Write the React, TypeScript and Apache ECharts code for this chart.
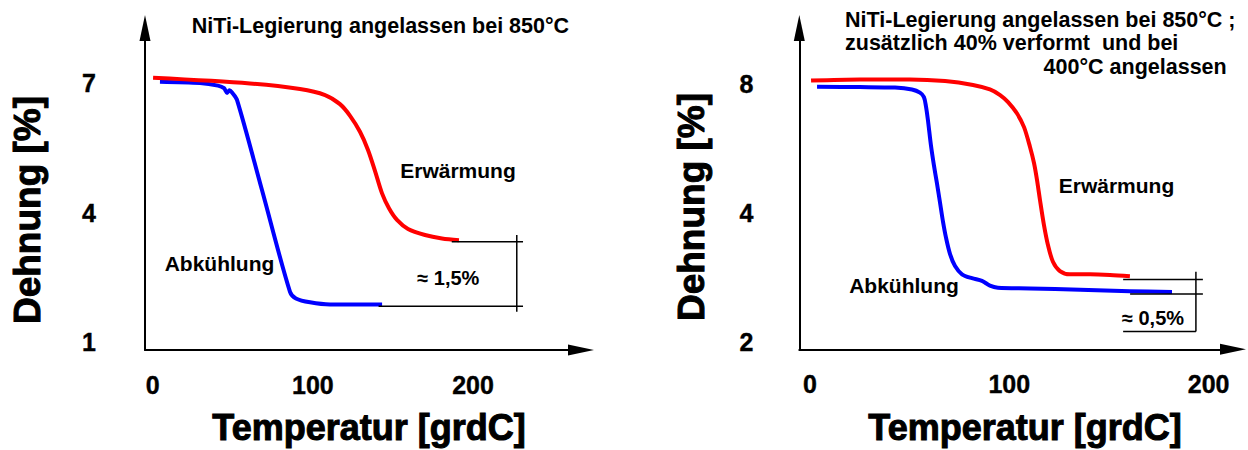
import React, { useEffect, useRef } from "react";
import * as echarts from "echarts";

// ---------- data ----------
const leftXTicks = [0, 100, 200];
const leftYTicks = [1, 4, 7];
const rightXTicks = [0, 100, 200];

// left panel: NiTi annealed at 850 °C
const leftHeating: [number, number][] = [
  [0.2, 7.12], [60.7, 6.99], [91.9, 6.86], [107.6, 6.72], [116.9, 6.51], [123.2, 6.24],
  [129.4, 5.87], [134.4, 5.45], [138.8, 4.96], [143.1, 4.45], [147.5, 4.1], [152.5, 3.83],
  [159.4, 3.62], [170.0, 3.48], [180.6, 3.4], [191.2, 3.36],
];
const leftCooling: [number, number][] = [
  [4.5, 7.03], [29.5, 7.0], [40.7, 6.94], [44.5, 6.88], [46.4, 6.77], [47.9, 6.83],
  [49.5, 6.78], [52.6, 6.61], [68.2, 4.52], [85.7, 2.16], [89.4, 2.01], [98.2, 1.92],
  [110.7, 1.87], [143.2, 1.87],
];
const leftBracketLines: [number, number][][] = [
  [[186.7, 3.32], [231.2, 3.32]],
  [[141.0, 1.83], [231.2, 1.83]],
  [[227.3, 3.48], [227.3, 1.7]],
];

// right panel: additionally 40 % deformed and annealed at 400 °C
const rightHeating: [number, number][] = [
  [0.6, 8.14], [25.1, 8.19], [50.2, 8.19], [67.8, 8.12], [81.8, 7.95], [90.3, 7.76],
  [95.4, 7.53], [99.4, 7.25], [103.9, 6.82], [107.4, 6.34], [110.4, 5.7], [112.4, 5.23],
  [113.9, 4.78], [115.4, 4.29], [117.4, 3.75], [119.4, 3.37], [121.9, 3.08], [125.4, 2.93],
  [130.4, 2.88], [140.5, 2.88], [150.5, 2.87], [160.5, 2.85],
];
const rightCooling: [number, number][] = [
  [3.6, 7.87], [25.1, 7.86], [42.7, 7.84], [51.2, 7.76], [55.2, 7.63], [57.2, 7.45],
  [58.2, 7.1], [59.2, 6.59], [60.7, 5.76], [62.2, 5.17], [63.7, 4.7], [65.3, 4.22],
  [66.8, 3.81], [68.3, 3.5], [70.3, 3.21], [72.8, 3.01], [76.3, 2.88], [81.3, 2.82],
  [86.3, 2.78], [90.3, 2.71], [94.3, 2.68], [110.4, 2.67], [135.5, 2.65], [160.5, 2.63],
  [181.6, 2.62],
];
const rightBracketLines: [number, number][][] = [
  [[157.1, 2.8], [197.1, 2.8]],
  [[160.6, 2.59], [197.1, 2.59]],
  [[193.6, 2.92], [193.6, 2.12]],
  [[157.1, 2.12], [193.6, 2.12]],
];

// ---------- styling ----------
const FONT = "'Liberation Sans', Arial, Helvetica, sans-serif";
const RED = "#ff0000";
const BLUE = "#0000ff";

const axisLine = {
  show: true,
  onZero: false,
  symbol: ["none", "triangle"],
  symbolSize: [11, 26],
  lineStyle: { color: "#000", width: 2 },
};
const tickLabel = {
  color: "#000",
  fontFamily: FONT,
  fontWeight: "bold" as const,
  fontSize: 25,
  textBorderColor: "#000",
  textBorderWidth: 0.4,
};

function curve(data: [number, number][], color: string, idx: number, z = 2) {
  return {
    type: "line",
    xAxisIndex: idx,
    yAxisIndex: idx,
    data,
    showSymbol: false,
    symbol: "none",
    smooth: 0.3,
    z,
    lineStyle: { color, width: 4, join: "round" },
    silent: true,
  };
}
function segment(data: [number, number][], idx: number) {
  return {
    type: "line",
    xAxisIndex: idx,
    yAxisIndex: idx,
    data,
    showSymbol: false,
    symbol: "none",
    z: 5,
    lineStyle: { color: "#000", width: 1.5 },
    silent: true,
  };
}
function txt(text: string, x: number, y: number, size: number, align = "center", rotation = 0, weight = 0) {
  const style: any = {
    text,
    fill: "#000",
    fontFamily: FONT,
    fontWeight: "bold",
    fontSize: size,
    align,
    verticalAlign: "middle",
  };
  if (weight > 0) {
    style.stroke = "#000";
    style.lineWidth = weight;
  }
  return { type: "text", x, y, rotation, silent: true, style };
}

const option = {
  animation: false,
  backgroundColor: "#fff",
  grid: [
    { left: 145, top: 28, width: 436, height: 322 },
    { left: 799.3, top: 28, width: 433.7, height: 321.3 },
  ],
  xAxis: [
    {
      type: "value",
      gridIndex: 0,
      min: -4.84,
      max: 267.4,
      axisLine,
      axisTick: { show: false },
      splitLine: { show: false },
      axisLabel: { ...tickLabel, margin: 22, customValues: leftXTicks },
    },
    {
      type: "value",
      gridIndex: 1,
      min: -5.3,
      max: 212.2,
      axisLine,
      axisTick: { show: false },
      splitLine: { show: false },
      axisLabel: { ...tickLabel, margin: 22, customValues: rightXTicks },
    },
  ],
  yAxis: [
    {
      type: "value",
      gridIndex: 0,
      min: 0.815,
      max: 8.274,
      axisLine,
      axisTick: { show: false },
      splitLine: { show: false },
      axisLabel: { ...tickLabel, margin: 49, customValues: leftYTicks },
    },
    {
      type: "log",
      logBase: 2,
      gridIndex: 1,
      min: 1.926,
      max: 10.79,
      axisLine,
      axisTick: { show: false },
      splitLine: { show: false },
      minorTick: { show: false },
      minorSplitLine: { show: false },
      axisLabel: {
        ...tickLabel,
        margin: 46,
        showMinLabel: false,
        showMaxLabel: false,
        formatter: (v: number) => String(Math.round(v)),
      },
    },
  ],
  series: [
    curve(leftCooling, BLUE, 0, 2),
    curve(leftHeating, RED, 0, 3),
    ...leftBracketLines.map((s) => segment(s, 0)),
    curve(rightCooling, BLUE, 1, 2),
    curve(rightHeating, RED, 1, 3),
    ...rightBracketLines.map((s) => segment(s, 1)),
  ],
  graphic: [
    txt("NiTi-Legierung angelassen bei 850°C", 191.7, 25.5, 21.5, "left"),
    txt("Erwärmung", 458, 170, 21),
    txt("Abkühlung", 219.5, 263, 21),
    txt("≈ 1,5%", 448.3, 278, 20),
    txt("Dehnung [%]", 27.5, 210, 37, "center", Math.PI / 2, 1),
    txt("Temperatur [grdC]", 369, 427, 36, "center", 0, 1),

    txt("NiTi-Legierung angelassen bei 850°C ;", 845, 19.7, 21.5, "left"),
    txt("zusätzlich 40% verformt  und bei", 845, 43, 21.5, "left"),
    txt("400°C angelassen", 1226.7, 66.7, 21.5, "right"),
    txt("Erwärmung", 1116.5, 185, 21),
    txt("Abkühlung", 904, 285, 21),
    txt("≈ 0,5%", 1153, 318, 20),
    txt("Dehnung [%]", 691.7, 207, 37, "center", Math.PI / 2, 1),
    txt("Temperatur [grdC]", 1025, 427, 36, "center", 0, 1),
  ],
};

export default function App() {
  const ref = useRef<HTMLDivElement>(null);
  useEffect(() => {
    if (!ref.current) return;
    const chart = echarts.init(ref.current, null, { renderer: "svg", width: 1248, height: 450 });
    chart.setOption(option as any);
    return () => chart.dispose();
  }, []);
  return (
    <div
      ref={ref}
      style={{ position: "fixed", left: 0, top: 0, width: 1248, height: 450, background: "#fff" }}
    />
  );
}
